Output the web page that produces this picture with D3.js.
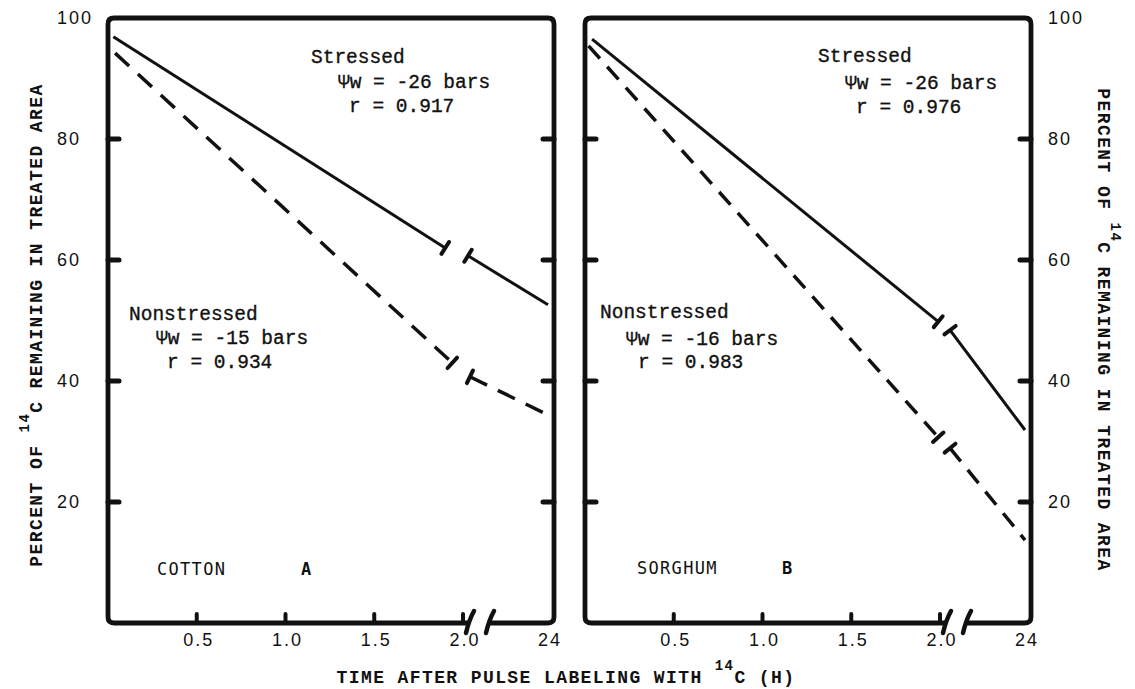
<!DOCTYPE html>
<html>
<head>
<meta charset="utf-8">
<script src="https://cdn.jsdelivr.net/npm/d3@7"></script>
<style>
  body { margin: 0; background: #fff; }
  text { fill: #111; }
</style>
</head>
<body>
<div id="chart"></div>
<script>
var width = 1135, height = 689;

// values
var crops = ["COTTON", "SORGHUM"];
var panelLetters = ["A", "B"];
var yTicks = [20, 40, 60, 80];
var yLabels = [100, 80, 60, 40, 20];
var xTicks = [0.5, 1.0, 1.5, 2.0];
var xLabels = ["0.5", "1.0", "1.5", "2.0"];
var xEnd = 24;

// regression lines, before and after the axis break [time (h), percent]
var cottonStressedPre = [[0.03, 96.9], [1.90, 62.0]];
var cottonStressedPost = [[3.3, 60.7], [24, 52.6]];
var cottonNonPre = [[0.04, 94.2], [1.94, 43.0]];
var cottonNonPost = [[3.8, 40.7], [24, 34.4]];
var sorghumStressedPre = [[0.04, 96.5], [1.99, 49.8]];
var sorghumStressedPost = [[4.6, 48.4], [24, 31.9]];
var sorghumNonPre = [[0.02, 95.4], [1.99, 30.7]];
var sorghumNonPost = [[4.6, 28.9], [24, 13.7]];

var stressedText = [["Stressed", "\u03A8w = -26 bars", "r = 0.917"],
                    ["Stressed", "\u03A8w = -26 bars", "r = 0.976"]];
var nonstressedText = [["Nonstressed", "\u03A8w = -15 bars", "r = 0.934"],
                       ["Nonstressed", "\u03A8w = -16 bars", "r = 0.983"]];

// layout
var plotTop = 18, plotBottom = 623, panelW = 446, rad = 6;
var panelLeft = [108, 585];
var breakAt = [362, 382];   // break marks, offset from panel left
var textPos = [
  { s: [[311, 63], [338, 88], [349, 112]], n: [[129, 320], [156, 344], [167, 368]], crop: [157, 575], letter: [301, 575] },
  { s: [[818, 62], [845, 89], [856, 113]], n: [[600, 318], [626, 345], [638, 368]], crop: [637, 574], letter: [782, 574] }
];

var svg = d3.select("#chart").append("svg").attr("width", width).attr("height", height);

var y = d3.scaleLinear().domain([0, 100]).range([plotBottom, plotTop]);

var series = [
  [ { pre: cottonStressedPre, post: cottonStressedPost, dash: null },
    { pre: cottonNonPre, post: cottonNonPost, dash: "19,12" } ],
  [ { pre: sorghumStressedPre, post: sorghumStressedPost, dash: null },
    { pre: sorghumNonPre, post: sorghumNonPost, dash: "17,11" } ]
];

var annoFont = "'Courier New', 'Nimbus Mono PS', 'Liberation Mono', monospace";
var tickFont = "'Liberation Sans', Arial, sans-serif";

crops.forEach(function(crop, i) {
  var fl = panelLeft[i], fr = fl + panelW, T = plotTop, B = plotBottom;
  var x = d3.scaleLinear().domain([0, 2, xEnd]).range([fl, fl + 355, fl + 440]);
  var g = svg.append("g");

  // frame with rounded corners, open at the axis break
  var p = d3.path();
  p.moveTo(fl + breakAt[1], B);
  p.lineTo(fr - rad, B); p.quadraticCurveTo(fr, B, fr, B - rad);
  p.lineTo(fr, T + rad); p.quadraticCurveTo(fr, T, fr - rad, T);
  p.lineTo(fl + rad, T); p.quadraticCurveTo(fl, T, fl, T + rad);
  p.lineTo(fl, B - rad); p.quadraticCurveTo(fl, B, fl + rad, B);
  p.lineTo(fl + breakAt[0], B);
  g.append("path")
      .attr("d", p.toString())
      .attr("fill", "none").attr("stroke", "#111").attr("stroke-width", 4.8)
      .attr("stroke-linejoin", "round");

  breakAt.forEach(function(b) {
    var bx = fl + b;
    g.append("path")
        .attr("d", "M" + (bx + 4) + "," + (B - 12) + "Q" + (bx - 1) + "," + (B - 3) + " " + (bx - 4) + "," + (B + 10))
        .attr("fill", "none").attr("stroke", "#111").attr("stroke-width", 4.5).attr("stroke-linecap", "round");
  });

  // inward y ticks on both sides
  g.selectAll(".ytl").data(yTicks).enter().append("line")
      .attr("x1", fl).attr("x2", fl + 11)
      .attr("y1", function(d) { return y(d); }).attr("y2", function(d) { return y(d); });
  g.selectAll(".ytr").data(yTicks).enter().append("line")
      .attr("x1", fr).attr("x2", fr - 11)
      .attr("y1", function(d) { return y(d); }).attr("y2", function(d) { return y(d); });
  g.selectAll("line").attr("stroke", "#111").attr("stroke-width", 5).attr("stroke-linecap", "round");

  // x ticks
  g.selectAll(".xt").data(xTicks).enter().append("line")
      .attr("x1", function(d) { return x(d); }).attr("x2", function(d) { return x(d); })
      .attr("y1", B).attr("y2", B - 9)
      .attr("stroke", "#111").attr("stroke-width", 4).attr("stroke-linecap", "round");

  g.selectAll(".xl").data(xTicks.concat([xEnd])).enter().append("text")
      .attr("x", function(d) { return x(d) + 2; })
      .attr("y", 646)
      .attr("text-anchor", "middle")
      .style("font-family", tickFont).style("font-size", "18px").style("letter-spacing", "2px")
      .text(function(d, j) { return j < xLabels.length ? xLabels[j] : String(xEnd); });

  // y tick labels: left of left panel, right of right panel
  var lx = i === 0 ? 57 : fr + 17;
  g.selectAll(".yl").data(yLabels).enter().append("text")
      .attr("x", lx)
      .attr("y", function(d) { return y(d); })
      .attr("dy", "0.36em")
      .style("font-family", tickFont).style("font-size", "18px").style("letter-spacing", "2px")
      .text(function(d) { return d; });

  // regression lines
  var line = d3.line().x(function(d) { return x(d[0]); }).y(function(d) { return y(d[1]); });
  series[i].forEach(function(s) {
    [s.pre, s.post].forEach(function(seg) {
      g.append("path").datum(seg)
          .attr("d", line)
          .attr("fill", "none").attr("stroke", "#111")
          .attr("stroke-width", s.dash ? 3.5 : 3)
          .attr("stroke-dasharray", s.dash);
    });
    // end caps at the break
    [[s.pre, s.pre[1]], [s.post, s.post[0]]].forEach(function(c) {
      var seg = c[0], pt = c[1];
      var ax = x(seg[0][0]), ay = y(seg[0][1]), bx = x(seg[1][0]), by = y(seg[1][1]);
      var len = Math.hypot(bx - ax, by - ay), nx = -(by - ay) / len, ny = (bx - ax) / len;
      var px = x(pt[0]), py = y(pt[1]);
      g.append("line")
          .attr("x1", px - nx * 7).attr("y1", py - ny * 7)
          .attr("x2", px + nx * 7).attr("y2", py + ny * 7)
          .attr("stroke", "#111").attr("stroke-width", 4).attr("stroke-linecap", "round");
    });
  });

  // annotations
  var tp = textPos[i];
  stressedText[i].forEach(function(t, j) {
    g.append("text").attr("x", tp.s[j][0]).attr("y", tp.s[j][1])
        .style("font-family", annoFont).style("font-size", "19.5px")
        .attr("stroke", "#111").attr("stroke-width", 0.35)
        .text(t);
  });
  nonstressedText[i].forEach(function(t, j) {
    g.append("text").attr("x", tp.n[j][0]).attr("y", tp.n[j][1])
        .style("font-family", annoFont).style("font-size", "19.5px")
        .attr("stroke", "#111").attr("stroke-width", 0.35)
        .text(t);
  });
  g.append("text").attr("x", tp.crop[0]).attr("y", tp.crop[1])
      .style("font-family", "'DejaVu Sans Mono', monospace").style("font-size", "17px")
      .style("letter-spacing", "1.3px")
      .text(crop);
  g.append("text").attr("x", tp.letter[0]).attr("y", tp.letter[1])
      .style("font-family", "'DejaVu Sans Mono', monospace").style("font-size", "17px")
      .style("font-weight", "bold")
      .text(panelLetters[i]);
});

// axis titles
function title(sel, before, after) {
  sel.style("font-family", annoFont).style("font-size", "18px").style("font-weight", "bold")
     .style("letter-spacing", "1.4px").attr("text-anchor", "middle");
  sel.append("tspan").text(before);
  sel.append("tspan").attr("dy", -13).style("font-size", "14px").text("14");
  sel.append("tspan").attr("dy", 13).text(after);
}

svg.append("text").attr("x", 566).attr("y", 683)
    .call(title, "TIME AFTER PULSE LABELING WITH ", "C (H)");
svg.append("text").attr("transform", "translate(42,325) rotate(-90)")
    .call(title, "PERCENT OF ", "C REMAINING IN TREATED AREA");
svg.append("text").attr("transform", "translate(1098,330) rotate(90)")
    .call(title, "PERCENT OF ", "C REMAINING IN TREATED AREA");
</script>
</body>
</html>
